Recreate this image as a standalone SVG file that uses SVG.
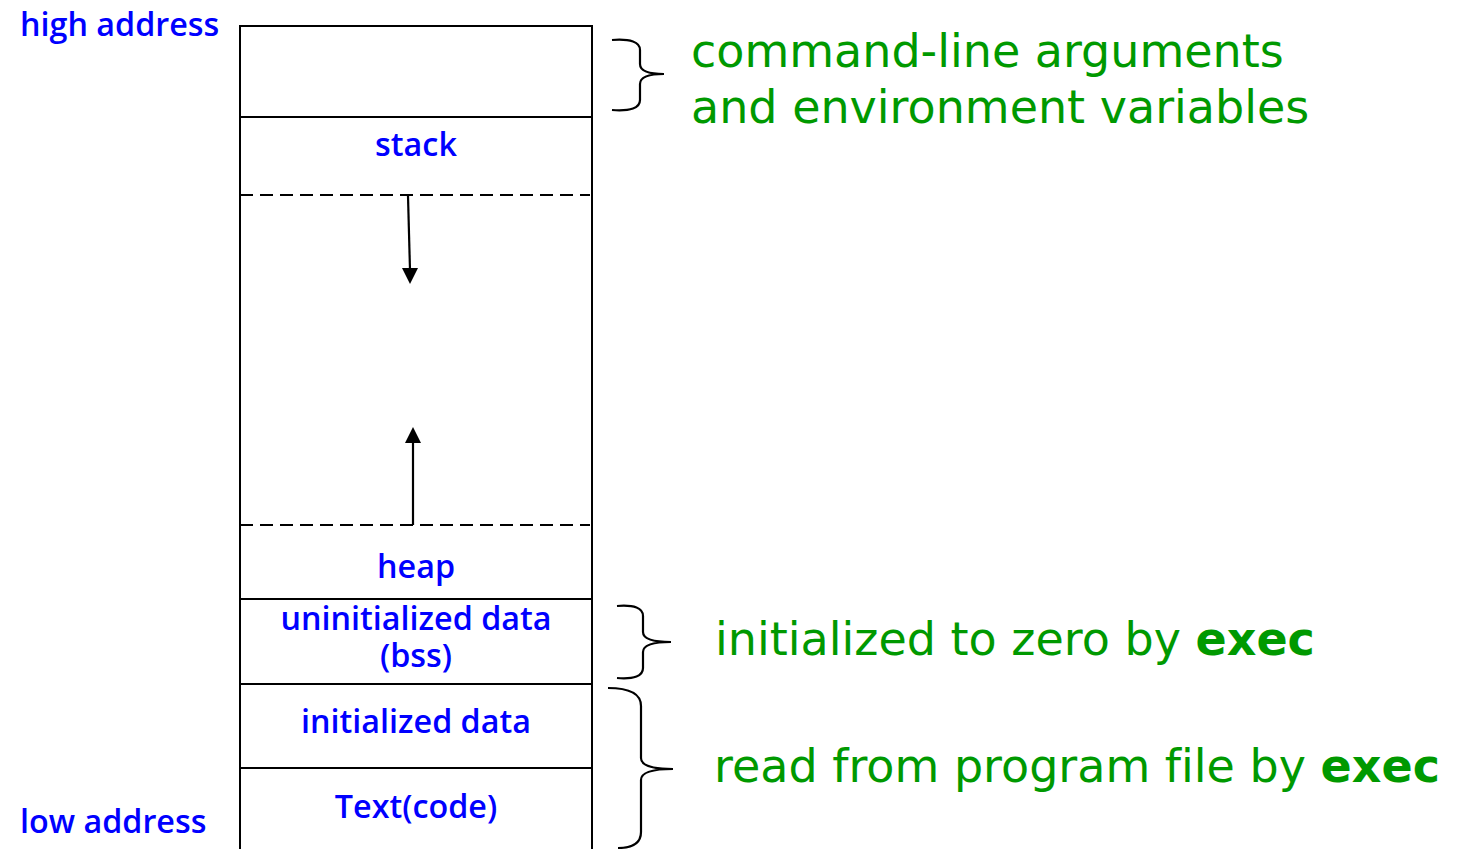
<svg xmlns="http://www.w3.org/2000/svg" width="1461" height="849" viewBox="0 0 1461 849">
  <style>
    .seg { fill: #ffffff; stroke: #000000; stroke-width: 2; }
    .div { stroke: #000000; stroke-width: 2; fill: none; }
    .dash { stroke: #000000; stroke-width: 2; stroke-dasharray: 13 7; fill: none; }
    .lbl { font-family: "Open Sans", "DejaVu Sans", sans-serif; font-weight: 600; font-size: 32.3px; fill: #0000ff; text-anchor: middle; }
    .addr { font-family: "Open Sans", "DejaVu Sans", sans-serif; font-weight: 600; font-size: 32.3px; fill: #0000ff; }
    .note { font-family: "DejaVu Sans", "Liberation Sans", sans-serif; font-size: 46px; fill: #009900; font-variant-ligatures: none; }
    .note .b { font-weight: bold; }
    .brace { stroke: #000000; stroke-width: 2.2; fill: none; }
    .conn { stroke: #000000; stroke-width: 2.2; fill: none; }
  </style>
  <rect width="1461" height="849" fill="#ffffff"/>

  <!-- address labels -->
  <g id="high-address"><text class="addr" x="20" y="36">high address</text></g>
  <g id="low-address"><text class="addr" x="20" y="833">low address</text></g>

  <!-- memory column -->
  <g id="args-env">
    <rect class="seg" x="240" y="26" width="352" height="91"/>
  </g>
  <g id="stack">
    <path class="div" d="M240,117 V599 M592,117 V599"/>
    <text class="lbl" x="416" y="156">stack</text>
    <path class="dash" d="M240,195 H590"/>
  </g>
  <g id="heap">
    <path class="dash" d="M240,525 H590"/>
    <text class="lbl" x="416" y="578">heap</text>
  </g>
  <g id="bss">
    <rect class="seg" x="240" y="599" width="352" height="85"/>
    <text class="lbl" x="416" y="630">uninitialized data<tspan x="416" y="667">(bss)</tspan></text>
  </g>
  <g id="data">
    <rect class="seg" x="240" y="684" width="352" height="84"/>
    <text class="lbl" x="416" y="733">initialized data</text>
  </g>
  <g id="text-segment">
    <rect class="seg" x="240" y="768" width="352" height="100"/>
    <text class="lbl" x="416" y="818">Text(code)</text>
  </g>

  <!-- growth arrows -->
  <g id="connectors">
    <path class="conn" d="M408,196 L410,270" />
    <path d="M402,268 L418,268 L410,284 z" fill="#000000"/>
    <path class="conn" d="M413,525 L413,441" />
    <path d="M405,443 L421,443 L413,427 z" fill="#000000"/>
  </g>

  <!-- braces and notes -->
  <g id="note-args">
    <path class="brace" d="M612,40 Q640,38 640,50 L640,64 Q640,74 664,74 Q640,74 640,84 L640,100 Q640,112 612,110"/>
    <text class="note" x="691" y="67">command-line arguments</text>
    <text class="note" x="691" y="123">and environment variables</text>
  </g>
  <g id="note-bss">
    <path class="brace" d="M617,606 Q643,604 643,616 L643,632 Q643,642 671,642 Q643,642 643,652 L643,668 Q643,680 617,678"/>
    <text class="note" x="715" y="655">initialized to zero by <tspan class="b">exec</tspan></text>
  </g>
  <g id="note-load">
    <path class="brace" d="M608,688 Q641,688 641,706 L641,758 Q641,769 673,769 Q641,769 641,780 L641,832 Q641,848 618,848"/>
    <text class="note" x="714" y="782">read from program file by <tspan class="b">exec</tspan></text>
  </g>
</svg>
